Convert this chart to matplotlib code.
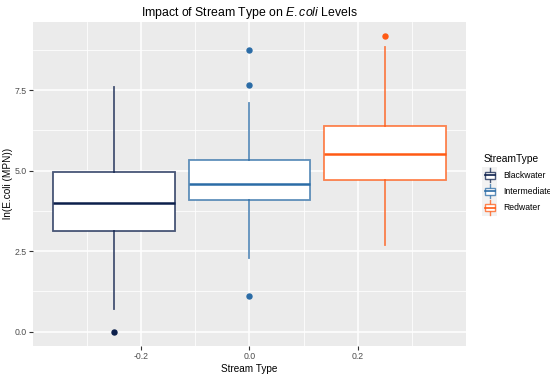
import matplotlib
matplotlib.use("Agg")
import matplotlib.pyplot as plt
from matplotlib.colors import to_rgba
from matplotlib.legend_handler import HandlerBase
from matplotlib.patches import Patch, Rectangle
from matplotlib.lines import Line2D

plt.rcParams['font.family'] = ['Liberation Sans', 'DejaVu Sans']
plt.rcParams['mathtext.fontset'] = 'custom'
plt.rcParams['mathtext.rm'] = 'Liberation Sans'
plt.rcParams['mathtext.it'] = 'Liberation Sans:italic'

# data (log E.coli per stream type)
stream_types = ["Blackwater", "Intermediate", "Redwater"]
positions = [-0.25, 0.0, 0.25]
whisker_low = [0.70, 2.29, 2.68]
q1 = [3.12, 4.09, 4.72]
medians = [3.99, 4.60, 5.52]
q3 = [4.96, 5.32, 6.40]
whisker_high = [7.59, 7.09, 8.83]
outliers = [[0.0], [1.11, 7.65, 8.73], [9.18]]
colors = ["#0c1f4b", "#2b6ca6", "#ff5a14"]


class BoxKeyHandler(HandlerBase):
    def create_artists(self, legend, orig_handle, xdescent, ydescent,
                       width, height, fontsize, trans):
        col = orig_handle.get_edgecolor()[:3]
        light = to_rgba(col, 0.75)
        x0, y0 = -xdescent, -ydescent
        bg = Rectangle((x0 - 1, y0 - 2), width + 2, height + 4,
                       facecolor="#f2f2f2", edgecolor="none", transform=trans)
        cx = x0 + width / 2
        whisk = Line2D([cx, cx], [y0 - 1.5, y0 + height + 1.5],
                       color=light, lw=1.0, transform=trans)
        box = Rectangle((x0 + 1, y0 + height * 0.15), width - 2,
                        height * 0.7, facecolor="white", edgecolor=light,
                        lw=1.0, transform=trans)
        med = Line2D([x0 + 1, x0 + width - 1], [y0 + height / 2] * 2,
                     color=col, lw=1.2, transform=trans)
        return [bg, whisk, box, med]


fig = plt.figure(figsize=(5.5, 3.76), dpi=100)
ax = fig.add_axes([33 / 550, 1 - 346 / 376, 433 / 550, 324.5 / 376])
ax.set_facecolor("#ebebeb")
for s in ax.spines.values():
    s.set_visible(False)

ax.set_xlim(-0.3995, 0.3995)
ax.set_ylim(-0.444, 9.63)
ax.set_xticks([-0.2, 0.0, 0.2])
ax.set_xticklabels(["-0.2", "0.0", "0.2"])
ax.set_yticks([0.0, 2.5, 5.0, 7.5])
ax.set_yticklabels(["0.0", "2.5", "5.0", "7.5"])
ax.set_xticks([-0.3, -0.1, 0.1, 0.3], minor=True)
ax.set_yticks([1.25, 3.75, 6.25, 8.75], minor=True)
ax.grid(which="major", color="white", lw=1.1)
ax.grid(which="minor", color="white", lw=0.55)
ax.set_axisbelow(True)
ax.tick_params(which="major", length=3, width=0.8, color="#333333",
               labelcolor="#4d4d4d", labelsize=6.3, pad=1.5)
ax.tick_params(which="minor", length=0)

stats = []
for i, name in enumerate(stream_types):
    stats.append(dict(label=name, whislo=whisker_low[i], q1=q1[i],
                      med=medians[i], q3=q3[i], whishi=whisker_high[i],
                      fliers=outliers[i]))

for i, st in enumerate(stats):
    c = colors[i]
    edge = to_rgba(c, 0.75)
    ax.bxp([st], positions=[positions[i]], widths=0.225, patch_artist=True,
           showcaps=False, manage_ticks=False,
           boxprops=dict(facecolor="white", edgecolor=edge, lw=1.3),
           whiskerprops=dict(color=edge, lw=1.3),
           medianprops=dict(color=c, lw=1.8),
           flierprops=dict(marker="o", markersize=3.6, markerfacecolor=c,
                           markeredgecolor=c))

ax.set_title(r"Impact of Stream Type on $\it{E.coli}$ Levels", fontsize=8.8,
             color="black", pad=4)
ax.set_xlabel("Stream Type", fontsize=7.2, labelpad=2)
ax.set_ylabel("ln(E.coli (MPN))", fontsize=7.2, labelpad=1.5)

handles = [Patch(edgecolor=c, facecolor="white") for c in colors]
leg = ax.legend(handles, stream_types, title="StreamType",
                handler_map={Patch: BoxKeyHandler()},
                loc="upper left", bbox_to_anchor=(480 / 550, 1 - 151 / 376),
                bbox_transform=fig.transFigure, frameon=False, fontsize=6.2,
                title_fontsize=7.4, handlelength=1.45, handleheight=1.5,
                handletextpad=0.8, labelspacing=0.65, borderaxespad=0)
leg._legend_box.align = "left"

fig.savefig("out.png", dpi=100)
